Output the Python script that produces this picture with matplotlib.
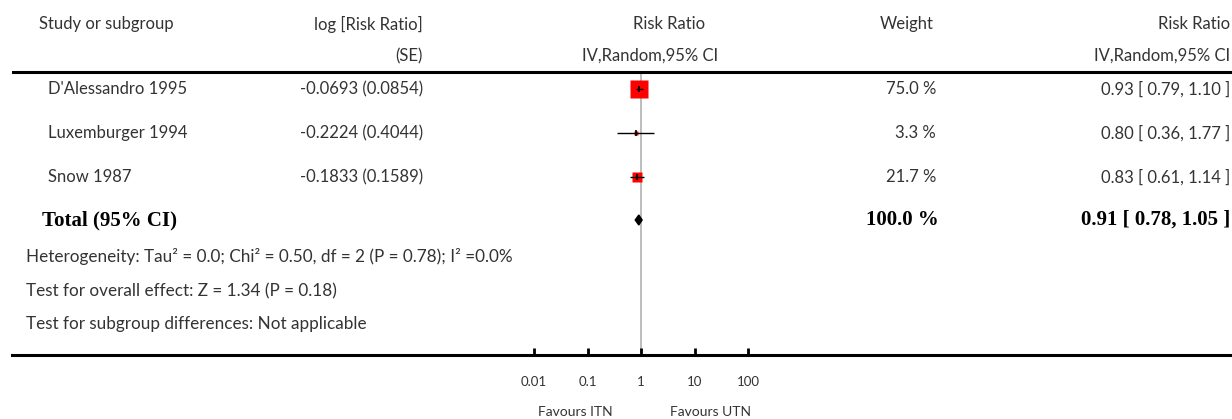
import numpy as np
import matplotlib
matplotlib.use("Agg")
import matplotlib.pyplot as plt
from matplotlib.transforms import blended_transform_factory

# data
studies = ["D'Alessandro 1995", "Luxemburger 1994", "Snow 1987"]
log_rr = ["-0.0693", "-0.2224", "-0.1833"]
se = ["0.0854", "0.4044", "0.1589"]
weights = [75.0, 3.3, 21.7]
rr = [0.93, 0.80, 0.83]
rr_lo = [0.79, 0.36, 0.61]
rr_hi = [1.10, 1.77, 1.14]
total_rr, total_lo, total_hi = 0.91, 0.78, 1.05
total_weight = 100.0
footnotes = [
    "Heterogeneity: Tau\u00b2 = 0.0; Chi\u00b2 = 0.50, df = 2 (P = 0.78); I\u00b2 =0.0%",
    "Test for overall effect: Z = 1.34 (P = 0.18)",
    "Test for subgroup differences: Not applicable",
]
xticks = [0.01, 0.1, 1, 10, 100]
xtick_labels = ["0.01", "0.1", "1", "10", "100"]

W, H = 1232, 419
sans = ["Lato", "DejaVu Sans"]
serif = ["Liberation Serif", "DejaVu Serif"]
txt_col = "#333333"
fs = 12

fig = plt.figure(figsize=(W / 100, H / 100), dpi=100)
ax = fig.add_axes([12 / W, (H - 355) / H, (W - 12) / W, 355 / H])
ax.set_xscale("log")
# 1 sits at x=641 px, one decade is ~53.5 px
dec = 53.5
ax.set_xlim(10 ** ((12 - 641) / dec), 10 ** ((W - 641) / dec))
ax.set_ylim(355, 0)

for s in ["top", "left", "right"]:
    ax.spines[s].set_visible(False)
ax.spines["bottom"].set_linewidth(2.2)
ax.set_yticks([])
ax.set_xticks(xticks)
ax.set_xticklabels(xtick_labels, fontsize=9.5, family=sans, color=txt_col)
ax.minorticks_off()
ax.tick_params(axis="x", direction="in", length=5, width=2, pad=15)

ax.axhline(72, color="black", lw=2.2)
ax.plot([1, 1], [72, 355], color="#bdbdbd", lw=1.4, zorder=1)

row_y = [89, 133, 177]
total_y = 220
foot_y = [256, 291, 324]

for i in range(len(studies)):
    y = row_y[i]
    ms = 12.7 * np.sqrt(weights[i] / 75.0)
    ax.plot(rr[i], y, marker="s", ms=ms, color="#ff0000", mec="none", zorder=2)
    ax.hlines(y, rr_lo[i], rr_hi[i], color="black", lw=1, zorder=3)
    ax.plot(rr[i], y, marker="|", ms=5, mew=1.2, color="black", zorder=4)

ax.fill([total_lo, total_rr, total_hi, total_rr],
        [total_y, total_y - 5, total_y, total_y + 5], color="black", zorder=3)

tr = blended_transform_factory(fig.transFigure, ax.transData)

def put(px, y, s, ha="left", bold=False, size=fs):
    ax.text(px / W, y, s, transform=tr, ha=ha, va="center",
            family=serif if bold else sans, fontweight="bold" if bold else "normal",
            fontsize=size, color="black" if bold else txt_col)

# headers
put(39, 24, "Study or subgroup")
put(423, 24, "log [Risk Ratio]", ha="right")
put(423, 56, "(SE)", ha="right")
put(669, 24, "Risk Ratio", ha="center")
put(650, 56, "IV,Random,95% CI", ha="center")
put(934, 24, "Weight", ha="right")
put(1230, 24, "Risk Ratio", ha="right")
put(1230, 56, "IV,Random,95% CI", ha="right")

for i in range(len(studies)):
    y = row_y[i]
    put(48, y, studies[i])
    put(423, y, "%s (%s)" % (log_rr[i], se[i]), ha="right")
    put(936, y, "%.1f %%" % weights[i], ha="right")
    put(1230, y, "%.2f [ %.2f, %.2f ]" % (rr[i], rr_lo[i], rr_hi[i]), ha="right")

put(42, total_y, "Total (95% CI)", bold=True, size=15)
put(939, total_y, "%.1f %%" % total_weight, ha="right", bold=True, size=15)
put(1230, total_y, "%.2f [ %.2f, %.2f ]" % (total_rr, total_lo, total_hi),
    ha="right", bold=True, size=15)

for y, s in zip(foot_y, footnotes):
    put(26, y, s, size=12.3)

put(575, 412, "Favours ITN", ha="center", size=10)
put(710, 412, "Favours UTN", ha="center", size=10)

fig.savefig("out.png", dpi=100)
